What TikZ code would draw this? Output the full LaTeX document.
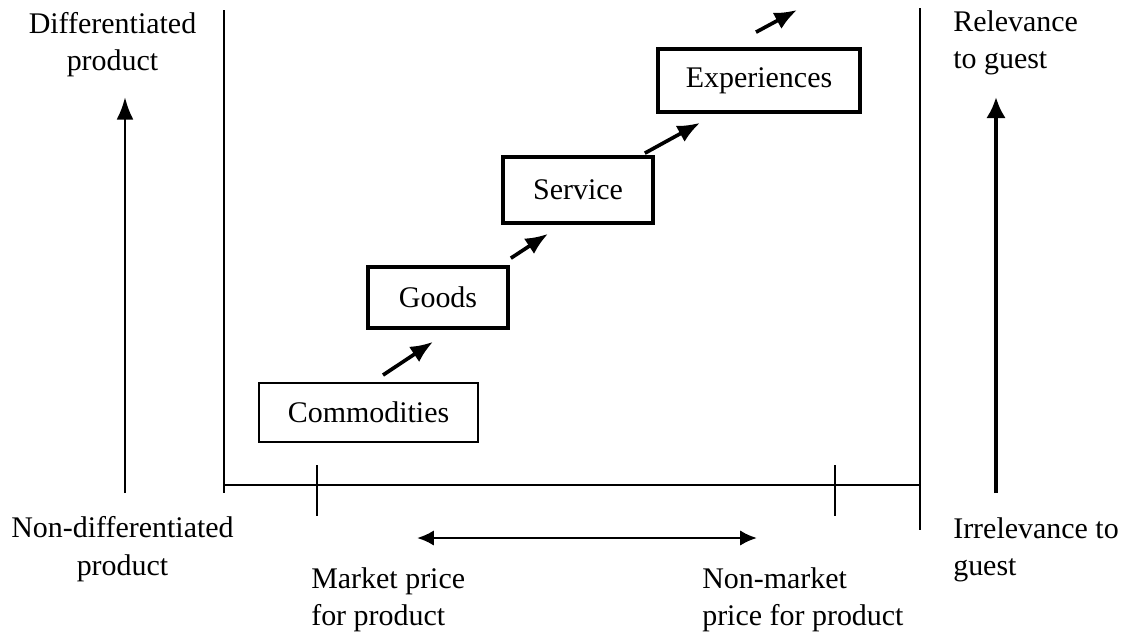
\documentclass[tikz,border=0pt]{standalone}
\usepackage{fontspec}
\setmainfont{Liberation Serif}
\usetikzlibrary{arrows.meta}
\tikzstyle{stage}=[rectangle, draw=black, line width=2.6pt, inner sep=0pt, font=\fontsize{21.3}{26}\selectfont]
\tikzstyle{axislabel}=[inner sep=0pt, font=\fontsize{21.3}{26.5}\selectfont]
\tikzstyle{climb}=[->, line width=2.6pt]
\tikzstyle{frame}=[line width=2pt]

\begin{document}
\begin{tikzpicture}[x=0.025cm, y=-0.025cm, >={Latex[length=16pt,width=13pt]}]
          \useasboundingbox (0,0) rectangle (1123,632);

          \node[stage, line width=1.3pt, minimum width=5.475cm, minimum height=1.475cm] (comm) at (368.5,412.5) {Commodities};
          \node[stage, minimum width=3.5cm, minimum height=1.525cm] (goods) at (438,297.5) {Goods};
          \node[stage, minimum width=3.75cm, minimum height=1.65cm] (service) at (578,190) {Service};
          \node[stage, minimum width=5.05cm, minimum height=1.575cm] (exper) at (759,80.5) {Experiences};
          \coordinate (beyond) at (797,10);

          \draw[climb] ([shift={(14.5,-7)}]comm.north) -- ([shift={(-5,12)}]goods.south);
          \draw[climb] ([shift={(1,-7)}]goods.north east) -- ([shift={(-30,9)}]service.south);
          \draw[climb] ([shift={(-10,-2)}]service.north east) -- ([shift={(-59,9)}]exper.south);
          \draw[climb] ([shift={(-3,-15)}]exper.north) -- (beyond);

          \draw[frame] (224,10) -- (224,493);
          \draw[frame] (224,485) -- (920,485);
          \draw[frame] (920,8) -- (920,530);
          \draw[frame] (317,465) -- (317,516);
          \draw[frame] (835,465) -- (835,516);

          \node[axislabel, align=center, anchor=north] (diff) at (112.5,12) {Differentiated\\product};
          \node[axislabel, align=center, anchor=north] (nondiff) at (122.5,516.5) {Non-differentiated\\product};
          \node[axislabel, align=left, anchor=north west] (relev) at (953,10.5) {Relevance\\to guest};
          \node[axislabel, align=left, anchor=north west] (irrelev) at (953,517.5) {Irrelevance to\\guest};
          \node[axislabel, align=left, anchor=north west] (market) at (311,567.5) {Market price\\for product};
          \node[axislabel, align=left, anchor=north west] (nonmarket) at (702,567.5) {Non-market\\price for product};

          \coordinate (lowL) at (125,493);
          \coordinate (highL) at (125,97);
          \coordinate (lowR) at (996,493);
          \coordinate (highR) at (996,97);
          \coordinate (mktL) at (417,538);
          \coordinate (mktR) at (757,538);
          \draw[->, line width=2pt, >={Latex[length=16pt,width=12pt]}] (lowL) -- (highL);
          \draw[->, line width=3.4pt, >={Latex[length=15pt,width=14pt]}] (lowR) -- (highR);
          \draw[<->, line width=2pt, >={Latex[length=12pt,width=11pt]}] (mktL) -- (mktR);
        \end{tikzpicture}
\end{document}
